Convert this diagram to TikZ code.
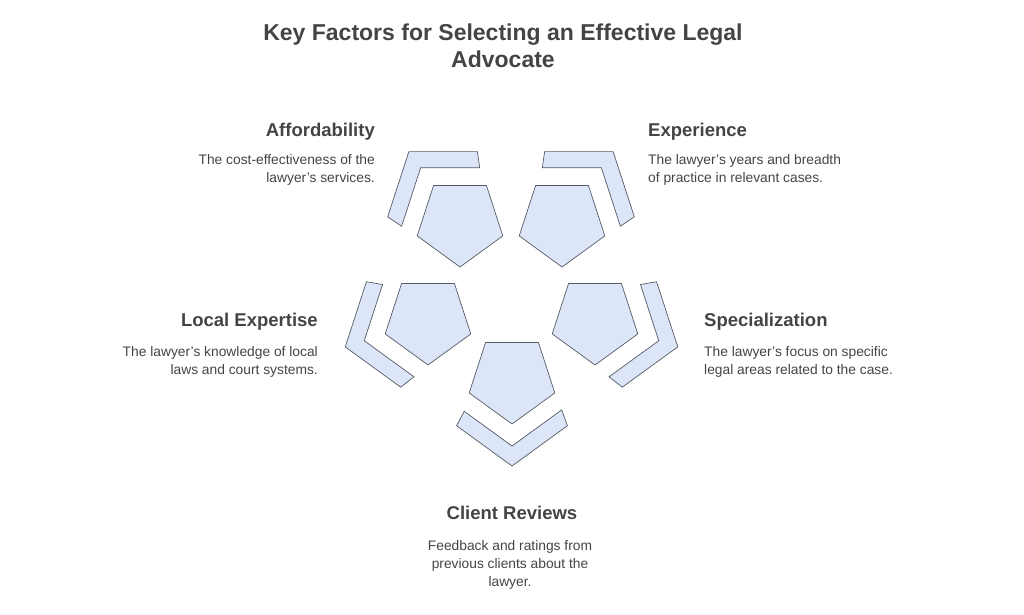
\documentclass[tikz,border=0pt]{standalone}
\usepackage{fontspec}
\setmainfont{Liberation Sans}
\usetikzlibrary{shapes.geometric,calc}

\definecolor{boxfill}{HTML}{DCE6F8}
\definecolor{boxline}{HTML}{555B66}
\definecolor{txt}{HTML}{444444}

\tikzset{
  pent/.style={regular polygon,regular polygon sides=5,shape border rotate=180,
    minimum size=90pt,inner sep=0pt,fill=boxfill,draw=boxline,line width=0.7pt},
  band/.style={fill=boxfill,draw=boxline,line width=0.7pt,line join=miter},
  head/.style={font=\bfseries\fontsize{18.5}{22}\selectfont,text=txt,inner sep=0pt},
  desc/.style={font=\fontsize{13.8}{18}\selectfont,text=txt,inner sep=0pt}
}

% band around two outer sides of a pentagon
\newcommand\outerband[4]{%
  \path (#1) ++(#2:87) coordinate (oa) (#1) ++(#3:87) coordinate (ob) (#1) ++(#4:87) coordinate (oc)
        (#1) ++(#2:67) coordinate (ia) (#1) ++(#3:67) coordinate (ib) (#1) ++(#4:67) coordinate (ic);
  \filldraw[band] ($(oa)!0.33!(ob)$) -- (ob) -- ($(ob)!0.67!(oc)$)
     -- ($(ib)!0.78!(ic)$) -- (ib) -- ($(ia)!0.25!(ib)$) -- cycle;}

\begin{document}
\begin{tikzpicture}[x=1pt,y=1pt]
\useasboundingbox (0,0) rectangle (1024,614);

\node[font=\bfseries\fontsize{23}{27}\selectfont,text=txt,align=center] (title) at (503,568)
  {Key Factors for Selecting an Effective Legal\\Advocate};

% pentagons
\node[pent] (afford) at (460,392) {};
\node[pent] (exper) at (562,392) {};
\node[pent] (local) at (428,294) {};
\node[pent] (spec) at (595,294) {};
\node[pent] (review) at (512,235) {};

\outerband{afford}{54}{126}{198}
\outerband{exper}{126}{54}{-18}
\outerband{local}{126}{198}{270}
\outerband{spec}{54}{-18}{-90}
\outerband{review}{198}{270}{342}

% labels
\node[head,anchor=east] (affordT) at (375,482) {Affordability};
\node[desc,anchor=north east,align=right] (affordD) at (375,460)
  {The cost-effectiveness of the\\lawyer's services.};
\node[head,anchor=west] (experT) at (648,482) {Experience};
\node[desc,anchor=north west,align=left] (experD) at (648,460)
  {The lawyer's years and breadth\\of practice in relevant cases.};
\node[head,anchor=east] (localT) at (318,292) {Local Expertise};
\node[desc,anchor=north east,align=right] (localD) at (318,268)
  {The lawyer's knowledge of local\\laws and court systems.};
\node[head,anchor=west] (specT) at (704,292) {Specialization};
\node[desc,anchor=north west,align=left] (specD) at (704,268)
  {The lawyer's focus on specific\\legal areas related to the case.};
\node[head] (reviewT) at (512,101) {Client Reviews};
\node[desc,anchor=north,align=center] (reviewD) at (510,74)
  {Feedback and ratings from\\previous clients about the\\lawyer.};
\end{tikzpicture}
\end{document}
